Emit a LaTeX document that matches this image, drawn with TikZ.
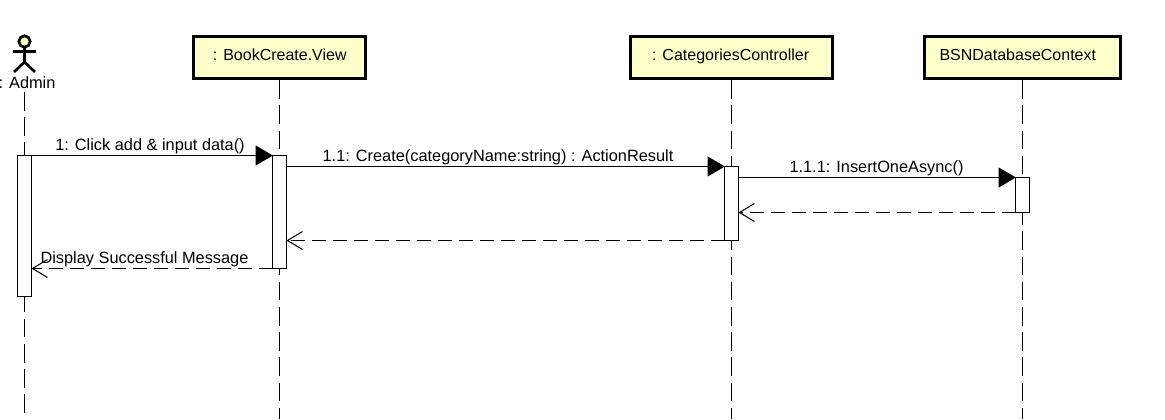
\documentclass[tikz,border=0pt]{standalone}
\usepackage{fontspec}
\setmainfont{Liberation Sans}
\usetikzlibrary{arrows.meta,calc}
\definecolor{umlfill}{HTML}{FFFFCC}
\tikzset{
  x=0.75pt,y=-0.75pt,
  headbox/.style={draw=black,line width=2.25pt,fill=umlfill,inner sep=0pt,anchor=north west,text height=9pt,text depth=4.9pt,minimum height=31.7pt,font=\fontsize{12pt}{14pt}\selectfont},
  lifeline/.style={draw=black,line width=1pt,dash pattern=on 13.9pt off 5pt},
  actbar/.style={draw=black,line width=0.75pt,fill=white,inner sep=0pt,outer sep=0pt,minimum width=10.5pt,anchor=north},
  msg/.style={draw=black,line width=0.75pt,-{Triangle[length=13pt,width=15pt]},shorten >=-0.3pt},
  reply/.style={draw=black,line width=0.75pt,dash pattern=on 10.5pt off 5.25pt,-{Straight Barb[length=11.25pt,width=13.5pt,line width=0.75pt]}},
  msglabel/.style={inner sep=0pt,anchor=base,font=\fontsize{12.25pt}{14pt}\selectfont},
  stick/.style={draw=black,line width=2pt}
}
\begin{document}
\begin{tikzpicture}
\useasboundingbox (0,0) rectangle (1165,419);
% heads
\node[headbox,minimum width=129pt] (book) at (192.3,35) {: BookCreate.View};
\node[headbox,minimum width=151.3pt] (cat) at (629.3,35) {: CategoriesController\hspace*{1.5pt}};
\node[headbox,minimum width=147pt] (db) at (923.3,35) {BSNDatabaseContext\hspace*{7.5pt}};
\node[msglabel] (admin) at (27,88.5) {: Admin};
% lifeline ends
\coordinate (adminTop) at (24.5,92);
\coordinate (adminEnd) at (24.5,412.5);
\coordinate (bookEnd) at (279.5,419);
\coordinate (catEnd) at (731.5,419);
\coordinate (dbEnd) at (1022.5,419);
\path[lifeline] (adminTop) -- (adminEnd);
\path[lifeline] (book.south -| bookEnd) -- (bookEnd);
\path[lifeline] (cat.south -| catEnd) -- (catEnd);
\path[lifeline] (db.south -| dbEnd) -- (dbEnd);
% actor
\node[circle,draw=black,line width=2pt,fill=umlfill,minimum size=8.5pt,inner sep=0pt,outer sep=0pt] (adminHead) at (24.5,41.5) {};
\coordinate (armL) at (13,51.5);
\coordinate (armR) at (36,51.5);
\coordinate (hip) at (24.5,62);
\coordinate (legL) at (14,72);
\coordinate (legR) at (35,72);
\draw[stick] (adminHead.south) -- (hip);
\draw[stick] (armL) -- (armR);
\draw[stick] (legL) -- (hip) -- (legR);
% activations
\node[actbar,minimum height=105.75pt] (a1) at (24.5,155.5) {};
\node[actbar,minimum height=84.75pt] (a2) at (279.5,155.5) {};
\node[actbar,minimum height=55.5pt] (a3) at (731.5,166.5) {};
\node[actbar,minimum height=26.25pt] (a4) at (1022.5,177.5) {};
% message levels
\coordinate (y2) at (0,166.5);
% messages
\draw[msg] (a1.north east) -- (a2.north west);
\draw[msg] (a2.east |- y2) -- (a3.north west);
\draw[msg] (a3.east |- a4.north) -- (a4.north west);
\draw[reply] (a4.south west) -- (a3.east |- a4.south);
\draw[reply] (a3.south west) -- (a2.east |- a3.south);
\draw[reply] (a2.south west) -- (a1.east |- a2.south);
% labels
\node[msglabel] (m1) at (150,150) {1: Click add \& input data()};
\node[msglabel] (m2) at (498,161) {1.1: Create(categoryName:string) : ActionResult};
\node[msglabel] (m3) at (876.5,172) {1.1.1: InsertOneAsync()};
\node[msglabel] (m4) at (144.5,263.5) {Display Successful Message};
\end{tikzpicture}
\end{document}
